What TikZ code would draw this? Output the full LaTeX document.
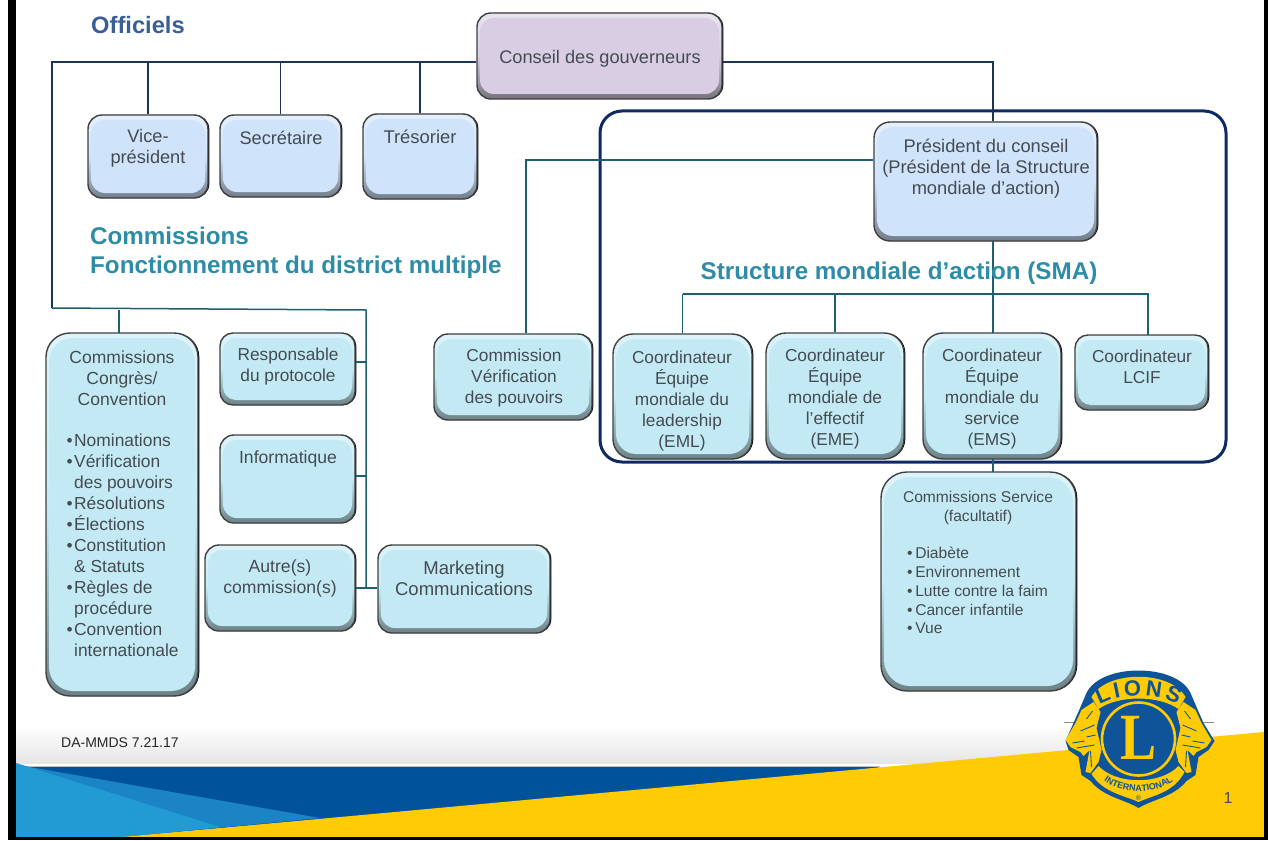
\documentclass[tikz,border=0pt]{standalone}
\usepackage{fontspec}
\usepackage{graphicx}
\setmainfont{Liberation Sans}
\usetikzlibrary{shadows,decorations.text,calc}
\definecolor{txt}{HTML}{454B52}
\definecolor{navy}{HTML}{1C3557}
\definecolor{teal2}{HTML}{1F5F72}
\definecolor{frame}{HTML}{0E2A63}
\definecolor{cyanbox}{HTML}{C3EAF4}
\definecolor{bluebox}{HTML}{CFE3FB}
\definecolor{mauve}{HTML}{D8CDE3}
\definecolor{lblue}{HTML}{0F5499}
\definecolor{lyel}{HTML}{FFCB05}
\definecolor{bandA}{HTML}{00539B}
\definecolor{bandB}{HTML}{1A84C4}
\definecolor{bandC}{HTML}{229BD5}
\definecolor{titleA}{HTML}{3A5F96}
\definecolor{titleB}{HTML}{2E8CA6}
\tikzset{
 x=1pt,y=-1pt,
 bx/.style n args={2}{draw=black!75,line width=1.4pt,rounded corners=#1,inner sep=0pt,
   top color=#2!55!white,bottom color=#2!55!black,middle color=#2,
   general shadow={shadow xshift=1.3pt,shadow yshift=0pt,fill=black},
   path picture={\fill[#2,rounded corners=#1]
     ([xshift=3pt,yshift=-5pt]path picture bounding box.north west) rectangle
     ([xshift=-3pt,yshift=5pt]path picture bounding box.south east);}},
 t/.style={text=txt,align=center,font=\fontsize{#1}{21}\selectfont,inner sep=0pt},
 t/.default=17.3,
 tl/.style={t=#1,align=left},
 tt/.style={font=\fontsize{24.2}{30}\selectfont\bfseries,align=left,anchor=west,inner sep=0pt},
 ln/.style={draw=navy,line width=1.5pt},
 lt/.style={draw=teal2,line width=1.5pt},
}
% name, x0,y0,x1,y1, radius, colour
\newcommand\bxn[7]{\node[bx={#6}{#7},minimum width=#4pt-#2pt,minimum height=#5pt-#3pt] (#1) at ({(#2+#4)/2},{(#3+#5)/2}) {};}
\newcommand\bul{\makebox[7.5pt][l]{•}}
\begin{document}
\begin{tikzpicture}
\useasboundingbox (0,0) rectangle (1268,840);
\fill[white] (0,0) rectangle (1268,840);
% footer band
\shade[top color=white,bottom color=black!10] (16,725) rectangle (1264,763);
\fill[black!25] (16,766) rectangle (880,767);
\fill[bandA] (16,767) -- (880,767) -- (870,770) -- (123,837) -- (16,837) -- cycle;
\fill[bandB] (30,767) -- (320,818) -- (123,837) -- (16,837) -- (16,764) -- cycle;
\fill[bandC] (16,763) -- (220,827) -- (123,837) -- (16,837) -- cycle;
\fill[lyel] (123,837) -- (1264,732) -- (1264,837) -- cycle;
% black frame
\fill[black] (8,0) rectangle (16,840);
\fill[black] (8,837) rectangle (1268,840);
\fill[black] (1264,0) rectangle (1268,840);
% SMA frame
\node[draw=frame,line width=3pt,rounded corners=22pt,minimum width=626pt,minimum height=351pt,inner sep=0pt] (sma) at (913,286.5) {};
% boxes
\bxn{cg}{477}{13}{722}{99}{14pt}{mauve}
\bxn{vp}{88}{115}{208}{198}{14pt}{bluebox}
\bxn{sec}{220}{115}{341}{197}{14pt}{bluebox}
\bxn{tre}{363}{114}{477}{199}{14pt}{bluebox}
\bxn{pres}{874}{122}{1097}{241}{16pt}{bluebox}
\bxn{ccc}{46}{333}{198}{696}{24pt}{cyanbox}
\bxn{rp}{220}{333}{355}{405}{13pt}{cyanbox}
\bxn{inf}{220}{435}{355}{523}{14pt}{cyanbox}
\bxn{aut}{205}{545}{355}{631}{14pt}{cyanbox}
\bxn{mkt}{378}{545}{550}{633}{14pt}{cyanbox}
\bxn{cvp}{434}{334}{592}{420}{14pt}{cyanbox}
\bxn{eml}{613}{334}{752}{459}{20pt}{cyanbox}
\bxn{eme}{766}{333}{904}{459}{20pt}{cyanbox}
\bxn{ems}{923}{333}{1061}{459}{20pt}{cyanbox}
\bxn{lcif}{1075}{335}{1208}{410}{13pt}{cyanbox}
\bxn{srv}{881}{472}{1076}{691}{26pt}{cyanbox}
% connector junctions
\coordinate (cl) at (52,62);
\coordinate (cb) at (52,308);
\coordinate (lr) at (366,310);
\coordinate (pl) at (526,160);
\coordinate (bar) at (993,294);
% connectors
\draw[ln] (cg.west |- cl) -- (cl) -- (cb);
\draw[lt] (cb) -- (lr) -- (366,588);
\draw[ln] (vp.north |- cl) -- (vp.north);
\draw[ln] (sec.north |- cl) -- (sec.north);
\draw[ln] (tre.north |- cl) -- (tre.north);
\draw[ln] (cg.east |- cl) -- (993,62) -- (pres.north -| 993,0);
\draw[lt] (pres.west |- pl) -- (pl) -- (cvp.north -| pl);
\draw[lt] (993,241) -- (993,333);
\draw[lt] (eml.north |- bar) -- (1148,294) -- (1148,335);
\draw[lt] (eml.north |- bar) -- (eml.north);
\draw[lt] (eme.north |- bar) -- (eme.north);
\draw[lt] (993,459) -- (993,472);
\draw[lt] (119,310) -- (119,333);
\draw[lt] (rp.east |- 0,362) -- (366,362);
\draw[lt] (inf.east |- 0,476) -- (366,476);
\draw[lt] (aut.east |- 0,588) -- (mkt.west |- 0,588);
% titles
\node[tt,text=titleA,font=\fontsize{23.7}{30}\selectfont\bfseries] (t1) at (91,25) {Officiels};
\node[tt,text=titleB] (t2) at (90,236) {Commissions};
\node[tt,text=titleB] (t3) at (90,267) {Fonctionnement du district multiple};
\node[tt,text=titleB,anchor=center] (t4) at (899,273) {Structure mondiale d’action (SMA)};
% box text
\node[t=18.2] (a1) at (600,59) {Conseil des gouverneurs};
\node[t=18.2] (a2) at (148,148) {Vice-\\président};
\node[t=18.2] (a3) at (281,138) {Secrétaire};
\node[t=18.4] (a4) at (420,137) {Trésorier};
\node[t=18.3] (a5) at (986,169) {Président du conseil\\(Président de la Structure\\mondiale d’action)};
\node[t=17.5] (a6) at (122,378) {Commissions\\Congrès/\\Convention};
\node[tl=17.4,anchor=north west] (a7) at (66.5,434) {\bul Nominations\\\bul Vérification\\\hspace*{7.5pt}des pouvoirs\\\bul Résolutions\\\bul Élections\\\bul Constitution\\\hspace*{7.5pt}\& Statuts\\\bul Règles de\\\hspace*{7.5pt}procédure\\\bul Convention\\\hspace*{7.5pt}internationale};
\node[t] (a8) at (288,367) {Responsable\\du protocole};
\node[t=17.6] (a9) at (288,459) {Informatique};
\node[t=17.6] (a10) at (280,578) {Autre(s)\\commission(s)};
\node[t=18.5] (a11) at (464,578) {Marketing\\Communications};
\node[t] (a12) at (514,378) {Commission\\Vérification\\des pouvoirs};
\node[t] (a13) at (682,401) {Coordinateur\\Équipe\\mondiale du\\leadership\\(EML)};
\node[t] (a14) at (835,399) {Coordinateur\\Équipe\\mondiale de\\l’effectif\\(EME)};
\node[t] (a15) at (992,399) {Coordinateur\\Équipe\\mondiale du\\service\\(EMS)};
\node[t] (a16) at (1142,367) {Coordinateur\\LCIF};
\node[t,font=\fontsize{15.6}{19}\selectfont] (a17) at (978,508) {Commissions Service\\(facultatif)};
\node[t,align=left,anchor=north west,font=\fontsize{15.6}{18.8}\selectfont] (a18) at (907,547) {•\,Diabète\\•\,Environnement\\•\,Lutte contre la faim\\•\,Cancer infantile\\•\,Vue};
\node[anchor=west,inner sep=0pt,text=black!85,font=\fontsize{14}{16}\selectfont] (foot) at (61,743) {DA-MMDS 7.21.17};
\node[inner sep=0pt,text=txt,font=\fontsize{16}{16}\selectfont] (num) at (1228,798) {1};
% logo
\begin{scope}[shift={(1138.5,739)}]
 \draw[black!45,line width=.7pt] (-75,-17) -- (75,-17);
 % shield
 \fill[lblue] (-52,-46) .. controls (-38,-76) and (38,-76) .. (52,-46) -- (58,-32) -- (65,-16) -- (76,2) -- (70,11) -- (60,18) -- (57,36) -- (48,42) .. controls (35,58) and (15,60) .. (0,69) .. controls (-15,60) and (-35,58) .. (-48,42) -- (-57,36) -- (-60,18) -- (-70,11) -- (-73,2) -- (-65,-16) -- (-58,-32) -- cycle;
 % banners
 \fill[lyel] (-47,-42) .. controls (-32,-69) and (32,-69) .. (47,-42) -- (40,-30) .. controls (20,-44) and (-20,-44) .. (-40,-30) -- cycle;
 \fill[lyel] (-47,35) -- (-40,27) .. controls (-22,46) and (22,46) .. (40,27) -- (46,33) .. controls (35,54) and (15,56) .. (0,63) .. controls (-15,56) and (-35,54) .. (-47,35) -- cycle;
 % circle
 \node[circle,fill=lblue,draw=lyel,line width=2.6pt,minimum size=73pt,inner sep=0pt] (lc) at (0,0) {};
 \node[inner sep=0pt,text=lyel,font=\fontspec{Liberation Serif}\fontsize{66}{66}\selectfont\bfseries] (ll) at (0,-1) {\scalebox{.82}[1]{L}};
 % curved texts
 \path[postaction={decorate,decoration={text along path,text align={fit to path},text={|\fontsize{22}{22}\selectfont\bfseries\color{lblue}|LIONS}}}] (-39,-34) .. controls (-20,-46) and (20,-46) .. (39,-34);
 \path[postaction={decorate,decoration={text along path,text align=center,text={|\fontsize{9}{10}\selectfont\bfseries\color{lblue}|INTERNATIONAL}}}] (-41,36) .. controls (-22,58) and (22,58) .. (41,36);
 \node[inner sep=0pt,text=lblue,font=\fontsize{7}{7}\selectfont] (reg) at (0,59) {®};
 % lions
 \foreach \s in {1,-1}{
 \begin{scope}[xscale=\s]
  \fill[lyel] (45,-37) -- (57,-29) -- (63,-16) -- (73,1) -- (68,8) -- (58,13) -- (55,17) -- (49,11) -- (53,33) -- (48,34) -- (40,23) -- (37,11) -- (42,-11) -- (38,-27) -- cycle;
  \draw[lblue,line width=.9pt] (46,-28) -- (52,-20) (44,-14) -- (58,-8) (43,-4) -- (52,-2) (54,2) -- (66,4) (44,6) -- (62,9) (48,12) -- (47,28);
 \end{scope}}
\end{scope}
\end{tikzpicture}
\end{document}
